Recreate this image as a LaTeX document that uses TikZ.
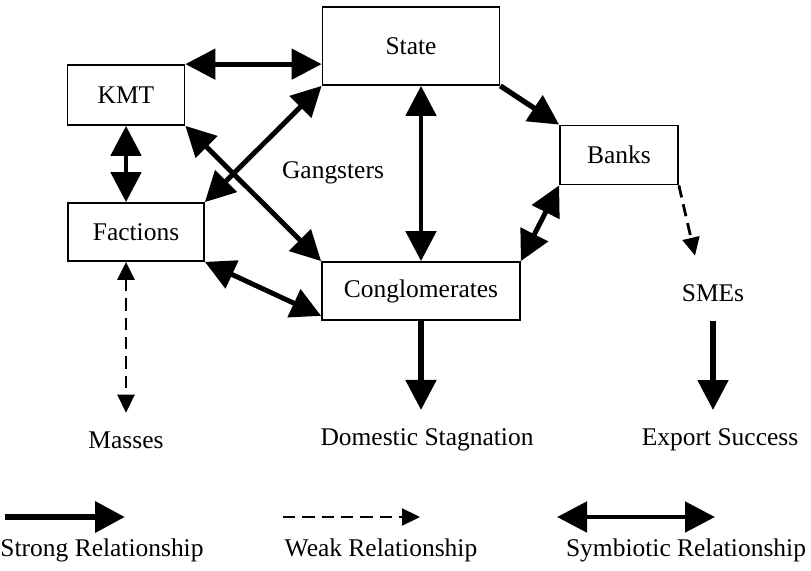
\documentclass[tikz,border=0pt]{standalone}
\usepackage{fontspec}
\setmainfont{Liberation Serif}
\usetikzlibrary{arrows.meta}
\tikzstyle{actor} = [rectangle, draw=black, line width=1pt, text centered, inner sep=0pt, font=\fontsize{14.5}{16}\selectfont]
\tikzstyle{label} = [inner sep=2pt, font=\fontsize{14.5}{16}\selectfont]
\tikzstyle{strong} = [line width=3pt, -{Triangle[length=0.6cm,width=0.6cm]}]
\tikzstyle{symbiotic} = [line width=2.8pt, {Triangle[length=0.6cm,width=0.6cm]}-{Triangle[length=0.6cm,width=0.6cm]}]
\tikzstyle{weak} = [line width=1.6pt, dash pattern=on 7pt off 4pt, -{Triangle[length=0.36cm,width=0.34cm]}]
\tikzstyle{weakboth} = [weak, {Triangle[length=0.36cm,width=0.34cm]}-{Triangle[length=0.36cm,width=0.34cm]}]

\begin{document}
\begin{tikzpicture}[x=0.02cm, y=-0.02cm]
	\useasboundingbox (0,0) rectangle (811,571);

	\node (state) [actor, minimum width=3.54cm, minimum height=1.56cm] at (411,46) {State};
	\node (kmt) [actor, minimum width=2.34cm, minimum height=1.2cm] at (126,95) {KMT};
	\node (factions) [actor, minimum width=2.72cm, minimum height=1.16cm] at (136,232) {Factions};
	\node (banks) [actor, minimum width=2.36cm, minimum height=1.18cm] at (619,155) {Banks};
	\node (congl) [actor, minimum width=3.96cm, minimum height=1.16cm] at (421,291) {Conglomerates};

	\node (gangsters) [label] at (333,173) {Gangsters};
	\node (smes) [label] at (713,293) {SMEs};
	\node (masses) [label] at (126,440) {Masses};
	\node (domestic) [label] at (427,440) {Domestic Stagnation};
	\node (export) [label] at (720,440) {Export Success};

	\draw [symbiotic] (kmt.north east) -- (kmt.north east -| state.west);
	\draw [symbiotic] (kmt.south) -- (factions.north -| kmt.south);
	\draw [symbiotic] (state.south west) -- (factions.north east);
	\draw [symbiotic] (kmt.south east) -- (congl.north west);
	\draw [symbiotic] (factions.south east) -- ([yshift=0.1cm]congl.south west);
	\draw [symbiotic] (congl.north |- state.south) -- (congl.north);
	\draw [strong] (state.south east) -- (banks.north west);
	\draw [symbiotic] (banks.south west) -- (congl.north east);
	\draw [weak] (banks.south east) -- ([xshift=-0.36cm,yshift=0.5cm]smes.north);
	\draw [weakboth] (masses.north |- factions.south) -- ([yshift=0.3cm]masses.north);
	\draw [strong] (congl.south) -- ([yshift=0.3cm]congl.south |- domestic.north);
	\draw [strong] (smes.south |- congl.south) -- ([yshift=0.3cm]smes.south |- export.north);

	% legend
	\coordinate (s1) at (5,517);
	\coordinate (s2) at (125,517);
	\coordinate (w1) at (283,517);
	\coordinate (w2) at (420,517);
	\coordinate (b1) at (557,517);
	\coordinate (b2) at (715,517);
	\draw [strong, line width=3.8pt] (s1) -- (s2);
	\draw [weak, line width=1.3pt] (w1) -- (w2);
	\draw [symbiotic] (b1) -- (b2);
	\node (lstrong) [label] at (102,550) {Strong Relationship};
	\node (lweak) [label] at (381,550) {Weak Relationship};
	\node (lsym) [label] at (686,550) {Symbiotic Relationship};
\end{tikzpicture}
\end{document}
